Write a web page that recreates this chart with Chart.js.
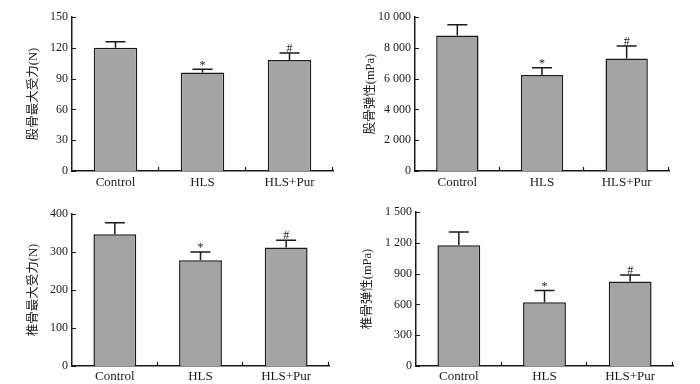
<!DOCTYPE html>
<html>
<head>
<meta charset="utf-8">
<script src="https://cdn.jsdelivr.net/npm/chart.js@4"></script>
<style>
  html, body { margin: 0; padding: 0; background: #fff; }
  #wrap { position: relative; width: 700px; height: 384px; }
  #wrap canvas { position: absolute; }
</style>
</head>
<body>
<div id="wrap">
  <canvas id="c1" width="350" height="192" style="left:0;top:0"></canvas>
  <canvas id="c2" width="350" height="192" style="left:350px;top:0"></canvas>
  <canvas id="c3" width="350" height="192" style="left:0;top:192px"></canvas>
  <canvas id="c4" width="350" height="192" style="left:350px;top:192px"></canvas>
</div>
<script>
var categories = ['Control', 'HLS', 'HLS+Pur'];
var marks = ['', '*', '#'];

var femurForce = [120, 96, 108];
var femurForceSd = [6, 3, 7];
var femurElastic = [8800, 6240, 7300];
var femurElasticSd = [700, 460, 820];
var vertForce = [347, 278, 312];
var vertForceSd = [30, 22, 19];
var vertElastic = [1175, 620, 822];
var vertElasticSd = [130, 116, 65];

var serif = '"Liberation Serif", "Noto Sans CJK SC", serif';
var ink = '#1a1a1a';

function fmt(v) {
  var s = String(v);
  if (v >= 1000) s = s.slice(0, s.length - 3) + ' ' + s.slice(-3);
  return s;
}

var extras = {
  id: 'extras',
  afterDatasetsDraw: function (chart) {
    var opts = chart.options.plugins.extras;
    var ctx = chart.ctx;
    var y = chart.scales.y;
    var x = chart.scales.x;
    var data = chart.data.datasets[0].data;
    var meta = chart.getDatasetMeta(0);
    ctx.save();
    ctx.strokeStyle = ink;
    ctx.lineWidth = 1.5;
    ctx.fillStyle = ink;
    ctx.font = '12px ' + serif;
    ctx.textAlign = 'center';
    ctx.textBaseline = 'bottom';
    meta.data.forEach(function (bar, i) {
      var base = y.getPixelForValue(data[i]);
      var top = y.getPixelForValue(data[i] + opts.sd[i]);
      ctx.beginPath();
      ctx.moveTo(bar.x, base);
      ctx.lineTo(bar.x, top);
      ctx.moveTo(bar.x - 10, top);
      ctx.lineTo(bar.x + 10, top);
      ctx.stroke();
      if (opts.marks[i]) ctx.fillText(opts.marks[i], bar.x, top + 2);
    });
    // inward tick marks
    ctx.lineWidth = 1.2;
    ctx.beginPath();
    y.ticks.forEach(function (t, i) {
      var py = Math.round(y.getPixelForTick(i)) + 0.5;
      ctx.moveTo(x.left, py);
      ctx.lineTo(x.left + 4, py);
    });
    var half = x.width / (categories.length * 2);
    categories.forEach(function (c, i) {
      var px = Math.round(x.getPixelForTick(i) + half) - 0.5;
      ctx.moveTo(px, y.bottom);
      ctx.lineTo(px, y.bottom - 4);
    });
    ctx.stroke();
    ctx.restore();
  }
};

function makeChart(id, values, sd, max, step, title, layout) {
  return new Chart(document.getElementById(id), {
    type: 'bar',
    data: {
      labels: categories,
      datasets: [{
        data: values,
        backgroundColor: '#a4a4a4',
        borderColor: ink,
        borderWidth: 1.5,
        categoryPercentage: 1,
        barPercentage: 0.5
      }]
    },
    options: {
      responsive: false,
      animation: false,
      layout: { padding: { top: layout.top, right: layout.right, left: 0, bottom: 0 } },
      plugins: {
        legend: { display: false },
        tooltip: { enabled: false },
        extras: { sd: sd, marks: marks }
      },
      scales: {
        x: {
          grid: { display: false, drawTicks: false },
          border: { color: ink, width: 1.5 },
          ticks: { color: ink, padding: layout.xp, font: { family: serif, size: 13 } },
          afterFit: function (s) { s.height = layout.xh; }
        },
        y: {
          min: 0,
          max: max,
          grid: { display: false, drawTicks: false },
          border: { color: ink, width: 1.5 },
          ticks: {
            stepSize: step,
            color: ink,
            padding: 4,
            font: { family: serif, size: 12 },
            callback: function (v) { return fmt(v); }
          },
          title: {
            display: true,
            text: title,
            color: ink,
            font: { family: serif, size: 12.5 },
            padding: { top: layout.tx - 7, bottom: 0 }
          },
          afterFit: function (s) { s.width = layout.yw; }
        }
      }
    },
    plugins: [extras]
  });
}

makeChart('c1', femurForce, femurForceSd, 150, 30, '股骨最大受力(N)',
  { top: 17, right: 17, xh: 21, yw: 72, tx: 33, xp: 4 });
makeChart('c2', femurElastic, femurElasticSd, 10000, 2000, '股骨弹性(mPa)',
  { top: 17, right: 31, xh: 21, yw: 65, tx: 20, xp: 4 });
makeChart('c3', vertForce, vertForceSd, 400, 100, '椎骨最大受力(N)',
  { top: 22, right: 21, xh: 18, yw: 72, tx: 33, xp: 3 });
makeChart('c4', vertElastic, vertElasticSd, 1500, 300, '椎骨弹性(mPa)',
  { top: 20, right: 27, xh: 18, yw: 66, tx: 17, xp: 3 });
</script>
</body>
</html>
